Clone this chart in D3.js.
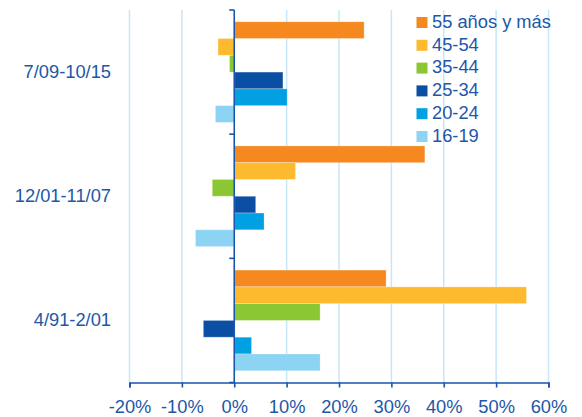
<!DOCTYPE html>
<html>
<head>
<meta charset="utf-8">
<script src="https://cdn.jsdelivr.net/npm/d3@7"></script>
<style>
  html, body { margin: 0; padding: 0; background: #fff; }
  svg { display: block; font-family: "Liberation Sans", Arial, sans-serif; }
</style>
</head>
<body>
<svg id="chart" width="582" height="417"></svg>
<script>
// Periods, top to bottom
const periods = ["7/09-10/15", "12/01-11/07", "4/91-2/01"];
// Age groups (legend order, top to bottom within each period)
const groups = ["55 años y más", "45-54", "35-44", "25-34", "20-24", "16-19"];
const groupColors = ["#F5891F", "#FDBA2E", "#8AC732", "#0A4FA3", "#00A0E3", "#8DD3F3"];

// Employment change (%) by age group, one array per period
const v0915 = [24.7, -3.1, -0.9, 9.2, 10.0, -3.6];
const v0107 = [36.3, 11.6, -4.2, 4.0, 5.6, -7.4];
const v9101 = [28.9, 55.7, 16.3, -5.9, 3.2, 16.3];
const seriesByPeriod = [v0915, v0107, v9101];

const xTicks = [-20, -10, 0, 10, 20, 30, 40, 50, 60];

const textColor = "#1D57A8";
const axisColor = "#1A55AC";
const gridColor = "#C6E7F7";
const fontSize = 18.3;

const svg = d3.select("#chart");

const x = d3.scaleLinear().domain([-20, 60]).range([129.5, 548.5]);
const y = d3.scaleBand().domain(periods).range([10, 382.5]).padding(0);
const yInner = d3.scaleBand().domain(groups).range([0, y.bandwidth()])
  .paddingInner(0).paddingOuter(0.7);

// Vertical gridlines
svg.append("g")
  .selectAll("line")
  .data(xTicks.filter(t => t !== 0))
  .join("line")
  .attr("x1", d => x(d)).attr("x2", d => x(d))
  .attr("y1", 10).attr("y2", 382.5)
  .attr("stroke", gridColor)
  .attr("stroke-width", 1.5);

// Bars
const rows = [];
periods.forEach((p, i) => {
  groups.forEach((g, j) => rows.push({ period: p, group: g, value: seriesByPeriod[i][j], color: groupColors[j] }));
});

svg.append("g")
  .selectAll("rect")
  .data(rows)
  .join("rect")
  .attr("x", d => d.value >= 0 ? x(0) + 0.5 : x(d.value))
  .attr("width", d => Math.abs(x(d.value) - x(0)))
  .attr("y", d => y(d.period) + yInner(d.group))
  .attr("height", yInner.bandwidth())
  .attr("fill", d => d.color)
  .attr("stroke", "rgba(255,255,255,0.35)")
  .attr("stroke-width", 0.8);

// X axis
const xAxis = svg.append("g")
  .attr("transform", `translate(0,382.5)`)
  .call(d3.axisBottom(x).tickValues(xTicks).tickSize(5).tickPadding(12.5)
    .tickFormat(d => d + "%"));
xAxis.select(".domain").attr("stroke", axisColor).attr("stroke-width", 1.6);
xAxis.selectAll(".tick line").attr("stroke", axisColor).attr("stroke-width", 1.6);
xAxis.selectAll(".tick text")
  .attr("fill", textColor)
  .attr("font-size", fontSize)
  .attr("font-family", "Liberation Sans, Arial, sans-serif");

// Y axis at zero, with ticks at period boundaries
const yAxisG = svg.append("g");
yAxisG.append("line")
  .attr("x1", x(0)).attr("x2", x(0))
  .attr("y1", 10).attr("y2", 382.5)
  .attr("stroke", axisColor).attr("stroke-width", 1.6);
const boundaries = periods.map(p => y(p)).concat([y.range()[1]]);
yAxisG.selectAll("line.tk")
  .data(boundaries)
  .join("line")
  .attr("class", "tk")
  .attr("x1", x(0) - 5).attr("x2", x(0))
  .attr("y1", d => d).attr("y2", d => d)
  .attr("stroke", axisColor).attr("stroke-width", 1.6);

// Period labels
svg.append("g")
  .selectAll("text")
  .data(periods)
  .join("text")
  .attr("x", 111)
  .attr("y", d => y(d) + y.bandwidth() / 2 + 1)
  .attr("text-anchor", "end")
  .attr("dominant-baseline", "middle")
  .attr("fill", textColor)
  .attr("font-size", fontSize)
  .text(d => d);

// Legend
const legend = svg.append("g").attr("transform", "translate(416.5,22.5)");
const li = legend.selectAll("g")
  .data(groups)
  .join("g")
  .attr("transform", (d, i) => `translate(0,${i * 22.8})`);
li.append("rect")
  .attr("x", 0).attr("y", -5.5)
  .attr("width", 11).attr("height", 11)
  .attr("fill", (d, i) => groupColors[i]);
li.append("text")
  .attr("x", 15.5).attr("y", 0.5)
  .attr("dominant-baseline", "middle")
  .attr("fill", textColor)
  .attr("font-size", fontSize)
  .text(d => d);
</script>
</body>
</html>
